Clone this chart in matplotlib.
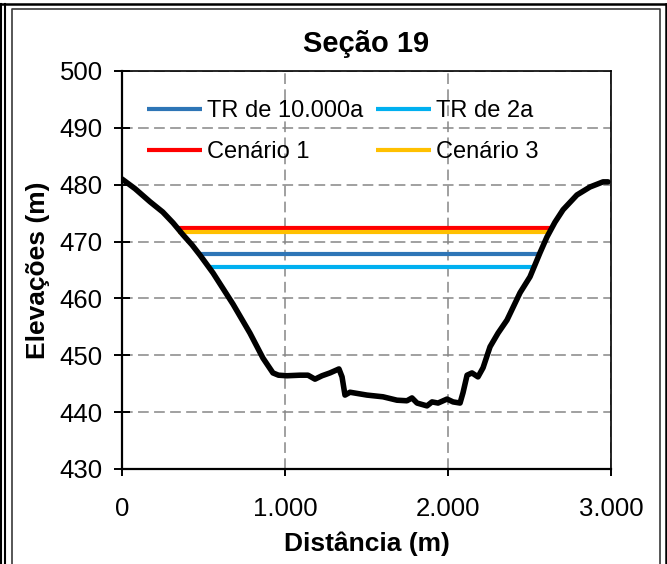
import matplotlib
matplotlib.use("Agg")
import matplotlib.pyplot as plt
from matplotlib.lines import Line2D
from matplotlib.ticker import FuncFormatter

plt.rcParams['font.family'] = ['Liberation Sans', 'DejaVu Sans']

# Terrain profile (distance m, elevation m)
dist = [0, 80, 172, 250, 313, 374, 430, 479, 558, 681, 785, 865, 926, 960, 1012, 1092, 1141, 1184,
        1227, 1276, 1331, 1350, 1368, 1399, 1503, 1601, 1687, 1748, 1779, 1810,
        1871, 1902, 1939, 1994, 2031, 2074, 2092, 2117, 2147, 2184, 2215, 2258,
        2307, 2362, 2442, 2503, 2564, 2607, 2656, 2706, 2791, 2871, 2951, 2982]
elev = [481.0, 479.3, 477.0, 475.2, 473.3, 471.2, 469.4, 467.6, 464.5, 459.0, 453.9, 449.5, 446.9, 446.5,
        446.4, 446.5, 446.5, 445.8, 446.4, 446.9, 447.6, 446.2, 443.0, 443.5,
        443.0, 442.7, 442.1, 442.0, 442.5, 441.6, 441.1, 441.8, 441.6, 442.3,
        441.8, 441.6, 443.4, 446.5, 446.9, 446.2, 447.8, 451.5, 453.9, 456.2,
        461.0, 463.8, 468.0, 470.8, 473.4, 475.6, 478.2, 479.6, 480.5, 480.5]

# Water levels
series = ['TR de 10.000a', 'Cenário 1', 'TR de 2a', 'Cenário 3']
levels = [467.9, 472.3, 465.5, 471.6]
x_start = [466, 337, 521, 345]
x_end = [2564, 2644, 2521, 2626]
colors = ['#2E75B6', '#FF0000', '#00B0F0', '#FFC000']

xticks = [0, 1000, 2000, 3000]
yticks = [430, 440, 450, 460, 470, 480, 490, 500]

fig = plt.figure(figsize=(6.67, 5.64), dpi=100)
ax = fig.add_axes([122/667, 1 - 469/564, (611-122)/667, (469-71)/564])

handles = []
for name, lv, xs, xe, c in zip(series, levels, x_start, x_end, colors):
    h, = ax.plot([xs, xe], [lv, lv], color=c, lw=3.0, solid_capstyle='butt',
                 label=name, zorder=3)
    handles.append(h)

ax.plot(dist, elev, color='black', lw=4.0, zorder=4, solid_joinstyle='round',
        solid_capstyle='round')

ax.set_xlim(0, 3000)
ax.set_ylim(430, 500)
ax.set_xticks(xticks)
ax.set_yticks(yticks)
ax.xaxis.set_major_formatter(FuncFormatter(lambda v, p: f"{int(v):,}".replace(',', '.')))

ax.grid(True, color='#868686', lw=1.1, linestyle=(0, (7, 3.5)))
ax.set_axisbelow(True)

for s in ['left', 'bottom']:
    ax.spines[s].set_linewidth(1.6)
for s in ['top', 'right']:
    ax.spines[s].set_linewidth(1.2)
for s in ax.spines.values():
    s.set_color('black')

ax.tick_params(axis='y', direction='inout', length=12, width=1.4, labelsize=18.5, pad=8)
ax.tick_params(axis='x', direction='out', length=5, width=1.4, labelsize=18.5, pad=15)

ax.set_title('Seção 19', fontsize=21, fontweight='bold', pad=14)
ax.set_ylabel('Elevações (m)', fontsize=19, fontweight='bold', labelpad=7)
ax.set_xlabel('Distância (m)', fontsize=19, fontweight='bold', labelpad=8)

ax.legend(handles=handles, ncol=2, loc='upper left', bbox_to_anchor=(0.022, 0.963),
          frameon=False, fontsize=17, handlelength=2.35, handletextpad=0.18,
          columnspacing=0.55, labelspacing=0.8, borderaxespad=0.2)

# outer frames
fig.add_artist(Line2D([0, 1], [1 - 4/564, 1 - 4/564], color='black', lw=1.8, transform=fig.transFigure))
fig.add_artist(Line2D([1.5/667, 1.5/667], [0, 1 - 4/564], color='black', lw=1.5, transform=fig.transFigure))
fig.add_artist(Line2D([4.5/667, 4.5/667], [0, 1 - 4/564], color='black', lw=1.5, transform=fig.transFigure))
fig.add_artist(Line2D([665.5/667, 665.5/667], [0, 1 - 4/564], color='black', lw=1.8, transform=fig.transFigure))
fig.add_artist(Line2D([12/667, 12/667, 659.5/667, 659.5/667], [0, 1 - 9/564, 1 - 9/564, 0],
                      color='#3a3a3a', lw=1.2, transform=fig.transFigure))

fig.savefig('out.png', dpi=100)
